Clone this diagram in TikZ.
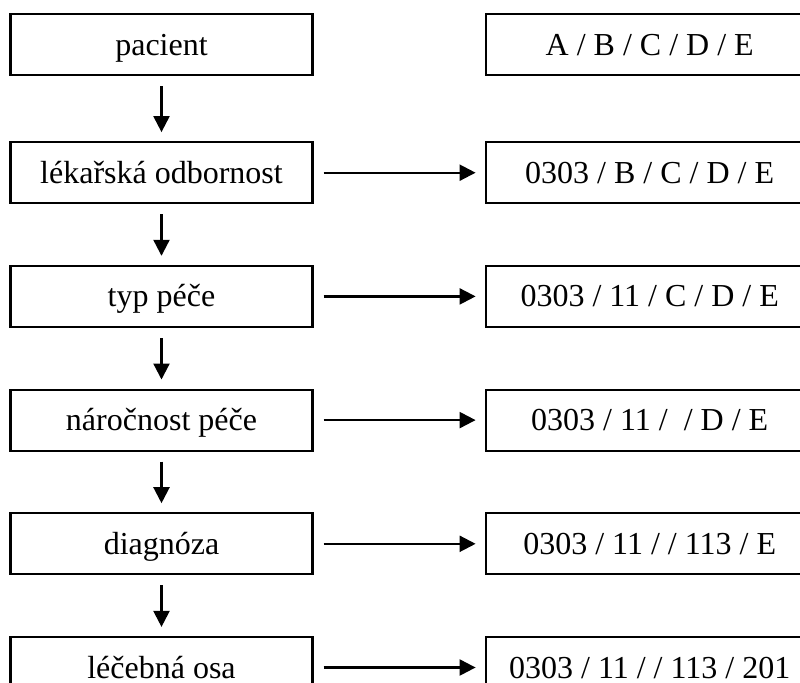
\documentclass[tikz,border=0pt]{standalone}
\usepackage{fontspec}
\setmainfont{Liberation Serif}
\usetikzlibrary{arrows.meta,positioning}

\begin{document}
\begin{tikzpicture}[->,>={Triangle[length=8pt,width=8pt]},line width=1.1pt,
        shorten >=4.5pt,shorten <=5pt,node distance=30.25pt]
    \tikzstyle{every node}=[font=\fontsize{16pt}{19pt}\selectfont]
    \tikzstyle{krok}=[draw,rectangle,minimum width=151pt,minimum height=30.5pt,inner sep=0pt,
        text height=14pt,text depth=3.5pt]
    \tikzstyle{kod}=[krok,minimum width=164pt]

    \clip (0,0) rectangle (400pt,-341pt);

    \node[krok] (1) at (80.75pt,-22.25pt) {pacient};
    \node[krok] (2) [below=32.5pt of 1]    {lékařská odbornost};
    \node[krok] (3) [below=of 2]           {typ péče};
    \node[krok] (4) [below=of 3]           {náročnost péče};
    \node[krok] (5) [below=of 4]           {diagnóza};
    \node[krok] (6) [below=of 5]           {léčebná osa};

    \node[kod] (k1) [right=85.5pt of 1] {A / B / C / D / E};
    \node[kod] (k2) [right=85.5pt of 2] {0303 / B / C / D / E};
    \node[kod] (k3) [right=85.5pt of 3] {0303 / 11 / C / D / E};
    \node[kod] (k4) [right=85.5pt of 4] {0303 / 11 / \ / D / E};
    \node[kod] (k5) [right=85.5pt of 5] {0303 / 11 / / 113 / E};
    \node[kod] (k6) [right=85.5pt of 6] {0303 / 11 / / 113 / 201};

    \path   (1) edge (2)
            (2) edge (3)
            (3) edge (4)
            (4) edge (5)
            (5) edge (6);

    \path   (2) edge (k2)
            (3) edge (k3)
            (4) edge (k4)
            (5) edge (k5)
            (6) edge (k6);

\end{tikzpicture}
\end{document}
